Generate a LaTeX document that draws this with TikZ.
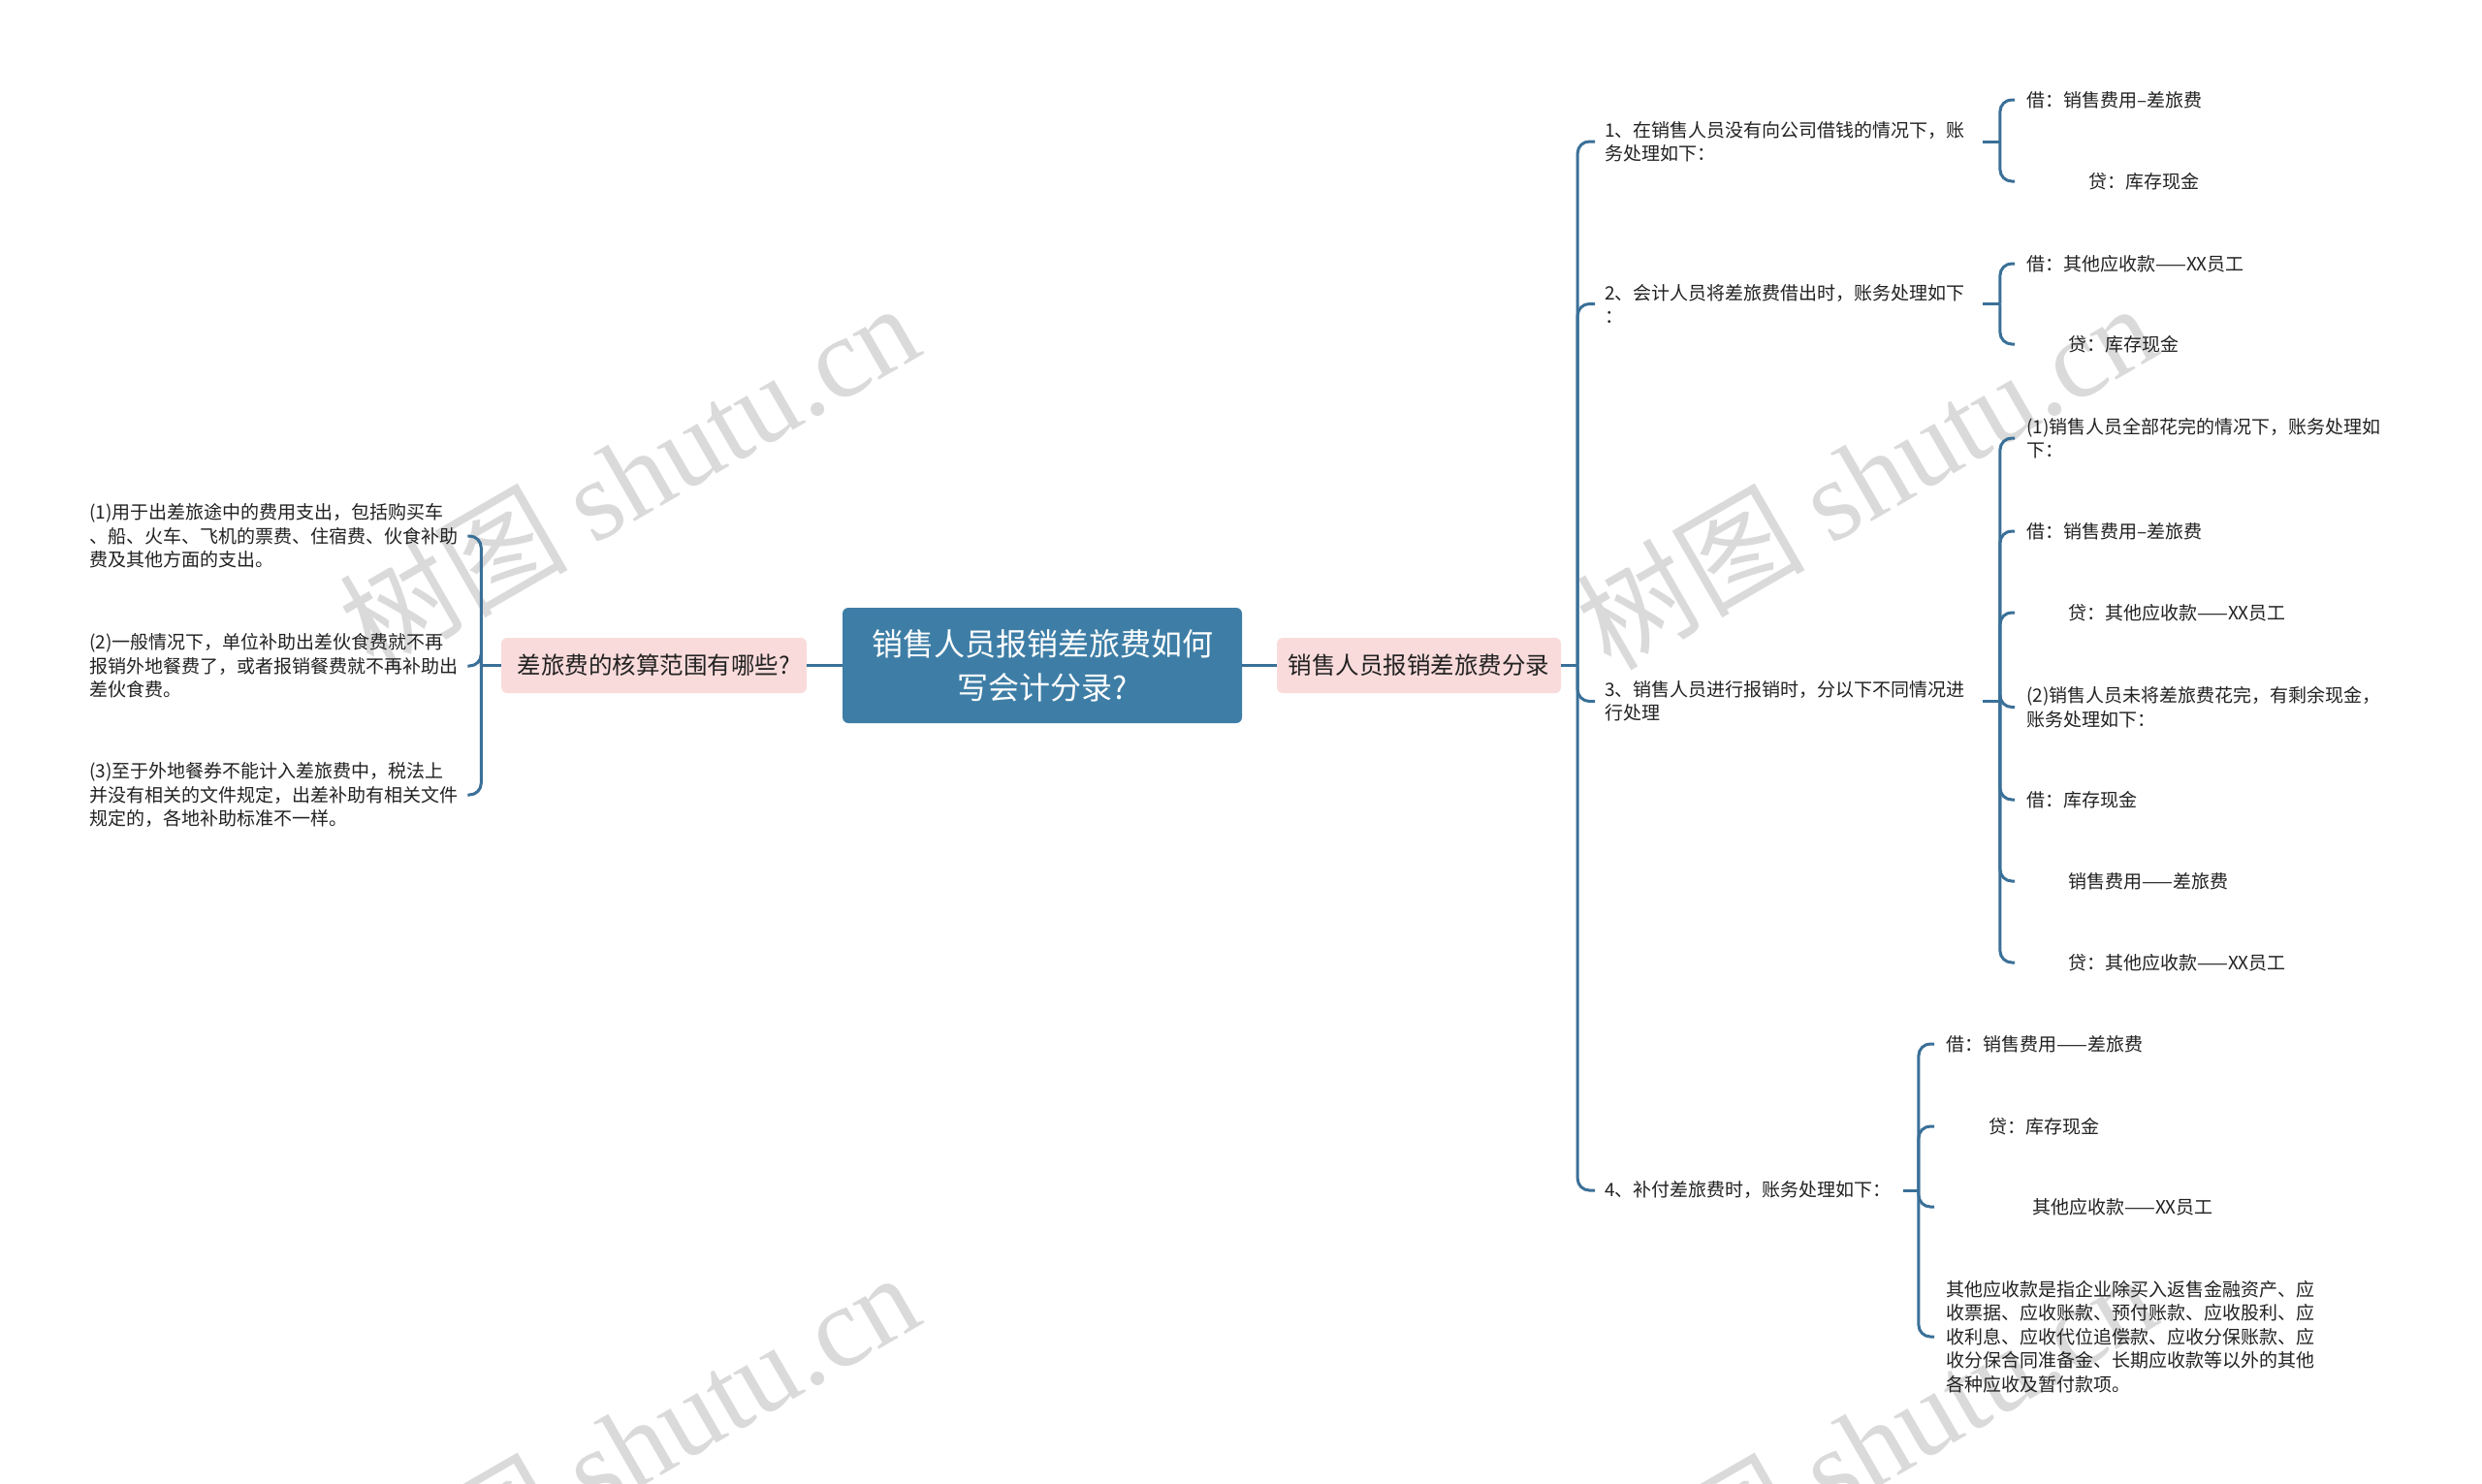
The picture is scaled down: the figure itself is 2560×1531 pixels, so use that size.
\documentclass[tikz,border=0pt]{standalone}
\usepackage{fontspec}
\setmainfont{Noto Sans CJK SC}
\newfontfamily\wmserif{Liberation Serif}
\newfontfamily\cjkfont{Noto Sans CJK SC}
\definecolor{lineblue}{RGB}{58,112,152}
\definecolor{rootblue}{RGB}{62,126,166}
\definecolor{pinkfill}{RGB}{250,219,219}
\definecolor{txt}{RGB}{34,34,34}
\definecolor{wmgray}{RGB}{218,218,218}
\begin{document}
\begin{tikzpicture}[x=1pt,y=-1pt,
  conn/.style={draw=lineblue,line width=3pt,rounded corners=12pt},
  leaf/.style={anchor=west,inner sep=0pt,align=left,text=txt,font=\fontsize{19}{24.5}\selectfont},
  sleaf/.style={anchor=west,inner sep=0pt,text=txt,font=\fontsize{19}{24.5}\selectfont},
  rootbox/.style={fill=rootblue,rounded corners=6pt,text=white,inner sep=0pt,minimum width=412pt,minimum height=119pt,align=center,font=\fontsize{32}{45}\selectfont},
  pinkbox/.style={fill=pinkfill,rounded corners=6pt,text=txt,inner sep=0pt,minimum height=57pt,font=\fontsize{24.5}{30}\selectfont},
  wmark/.style={text=wmgray,rotate=30,inner sep=0pt,font=\fontsize{118}{118}\selectfont}]
\useasboundingbox (0,0) rectangle (2560,1531);
\fill[white] (0,0) rectangle (2560,1531);
\begin{scope}
\clip (0,0) rectangle (2560,1531);
\node[wmark] (wm1) at (648,490) {树图 {\wmserif shutu.cn}};
\node[wmark] (wm2) at (1924,490) {树图 {\wmserif shutu.cn}};
\node[wmark] (wm3) at (648,1490) {树图 {\wmserif shutu.cn}};
\node[wmark] (wm4) at (1924,1490) {树图 {\wmserif shutu.cn}};
\end{scope}

% central and first level
\node[rootbox] (root) at (1075,686.5) {销售人员报销差旅费如何\\写会计分录?};
\node[pinkbox,minimum width=315pt] (lp) at (674.5,686.5) {差旅费的核算范围有哪些?};
\node[pinkbox,minimum width=293pt] (rp) at (1463.5,686.5) {销售人员报销差旅费分录};
\draw[conn] (root.west) -- (lp.east);
\draw[conn] (root.east) -- (rp.west);

% left leaves
\node[leaf] (a1) at (92,553) {(1)用于出差旅途中的费用支出，包括购买车\\、船、火车、飞机的票费、住宿费、伙食补助\\费及其他方面的支出。};
\node[leaf] (a2) at (92,687) {(2)一般情况下，单位补助出差伙食费就不再\\报销外地餐费了，或者报销餐费就不再补助出\\差伙食费。};
\node[leaf] (a3) at (92,820) {(3)至于外地餐券不能计入差旅费中，税法上\\并没有相关的文件规定，出差补助有相关文件\\规定的，各地补助标准不一样。};
\draw[conn] (lp.west) -- ++(-20.5pt,0) coordinate (lb);
\draw[conn] (lb) |- ([xshift=10pt]a1.east);
\draw[conn] (lb) |- ([xshift=10pt]a2.east);
\draw[conn] (lb) |- ([xshift=10pt]a3.east);

% right second level
\node[leaf] (L1) at (1655,146) {1、在销售人员没有向公司借钱的情况下，账\\务处理如下：};
\node[leaf] (L2) at (1655,313.5) {2、会计人员将差旅费借出时，账务处理如下\\：};
\node[leaf] (L3) at (1655,723.5) {3、销售人员进行报销时，分以下不同情况进\\行处理};
\node[sleaf] (L4) at (1655,1228) {4、补付差旅费时，账务处理如下：};
\draw[conn] (rp.east) -- ++(17pt,0) coordinate (trunk);
\draw[conn] (trunk) |- ([xshift=-10pt]L1.west);
\draw[conn] (trunk) |- ([xshift=-10pt]L2.west);
\draw[conn] (trunk) |- ([xshift=-10pt]L3.west);
\draw[conn] (trunk) |- ([xshift=-10pt]L4.west);

% third level under 1
\node[sleaf] (c11) at (2090,103) {借：销售费用–差旅费};
\node[sleaf] (c12) at (2090,187) {\hspace*{64pt}贷：库存现金};
\draw[conn] ([xshift=18pt]L1.east) -- ++(18pt,0) coordinate (b1);
\draw[conn] (b1) |- ([xshift=-12pt]c11.west);
\draw[conn] (b1) |- ([xshift=-12pt]c12.west);

% third level under 2
\node[sleaf] (c21) at (2090,272) {借：其他应收款——XX员工};
\node[sleaf] (c22) at (2090,355) {\hspace*{43pt}贷：库存现金};
\draw[conn] ([xshift=18pt]L2.east) -- ++(18pt,0) coordinate (b2);
\draw[conn] (b2) |- ([xshift=-12pt]c21.west);
\draw[conn] (b2) |- ([xshift=-12pt]c22.west);

% third level under 3
\node[leaf] (c31) at (2090,452) {(1)销售人员全部花完的情况下，账务处理如\\下：};
\node[sleaf] (c32) at (2090,548) {借：销售费用–差旅费};
\node[sleaf] (c33) at (2090,632) {\hspace*{43pt}贷：其他应收款——XX员工};
\node[leaf] (c34) at (2090,729.5) {(2)销售人员未将差旅费花完，有剩余现金，\\账务处理如下：};
\node[sleaf] (c35) at (2090,825) {借：库存现金};
\node[sleaf] (c36) at (2090,909) {\hspace*{43pt}销售费用——差旅费};
\node[sleaf] (c37) at (2090,993) {\hspace*{43pt}贷：其他应收款——XX员工};
\draw[conn] ([xshift=18pt]L3.east) -- ++(18pt,0) coordinate (b3);
\foreach \c in {c31,c32,c33,c34,c35,c36,c37}
  \draw[conn] (b3) |- ([xshift=-12pt]\c.west);

% third level under 4
\node[sleaf] (c41) at (2007,1077) {借：销售费用——差旅费};
\node[sleaf] (c42) at (2007,1162) {\hspace*{44pt}贷：库存现金};
\node[sleaf] (c43) at (2007,1245) {\hspace*{89pt}其他应收款——XX员工};
\node[leaf] (c44) at (2007,1379) {其他应收款是指企业除买入返售金融资产、应\\收票据、应收账款、预付账款、应收股利、应\\收利息、应收代位追偿款、应收分保账款、应\\收分保合同准备金、长期应收款等以外的其他\\各种应收及暂付款项。};
\draw[conn] ([xshift=12pt]L4.east) -- ++(16pt,0) coordinate (b4);
\foreach \c in {c41,c42,c43,c44}
  \draw[conn] (b4) |- ([xshift=-12pt]\c.west);
\end{tikzpicture}
\end{document}
